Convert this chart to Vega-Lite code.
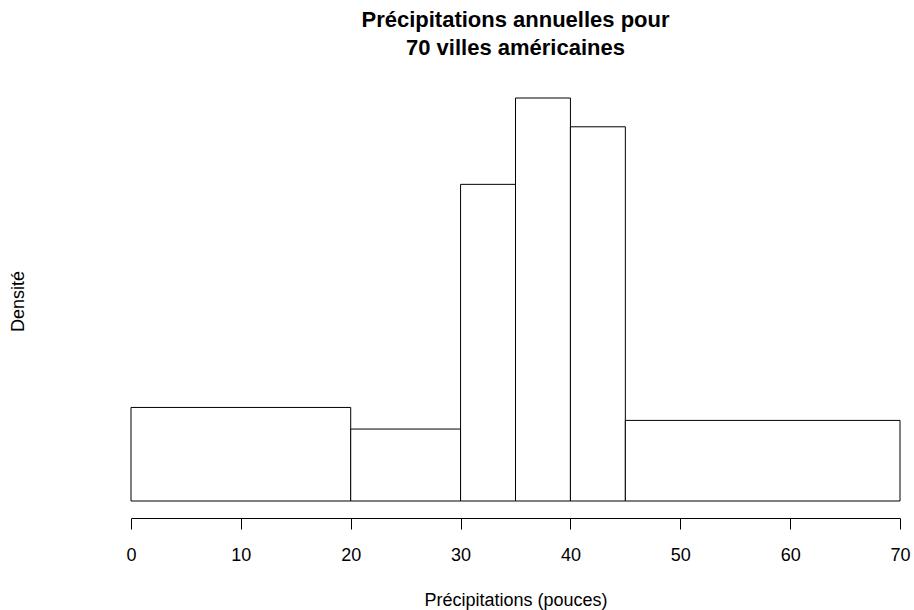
{
  "$schema": "https://vega.github.io/schema/vega-lite/v6.json",
  "width": 769,
  "height": 403,
  "autosize": "none",
  "padding": {"left": 131, "top": 98, "right": 14, "bottom": 109},
  "background": "white",
  "config": {"view": {"stroke": null}, "font": "Liberation Sans"},
  "title": {
    "text": ["Précipitations annuelles pour", "70 villes américaines"],
    "font": "Liberation Sans",
    "fontSize": 22,
    "fontWeight": "bold",
    "color": "black",
    "lineHeight": 28,
    "anchor": "middle",
    "offset": 38
  },
  "data": {
    "values": [
      {"start": 0, "end": 20, "density": 0.009286},
      {"start": 20, "end": 30, "density": 0.007143},
      {"start": 30, "end": 35, "density": 0.031429},
      {"start": 35, "end": 40, "density": 0.04},
      {"start": 40, "end": 45, "density": 0.037143},
      {"start": 45, "end": 70, "density": 0.008}
    ]
  },
  "mark": {"type": "rect", "fill": "white", "stroke": "black", "strokeWidth": 1},
  "encoding": {
    "x": {
      "field": "start",
      "type": "quantitative",
      "scale": {"domain": [0, 70], "nice": false},
      "axis": {
        "values": [0, 10, 20, 30, 40, 50, 60, 70],
        "offset": 17,
        "grid": false,
        "domainColor": "black",
        "tickColor": "black",
        "tickSize": 11,
        "labelPadding": 31,
        "labelBaseline": "alphabetic",
        "labelFlush": false,
        "labelFontSize": 18,
        "labelColor": "black",
        "labelFont": "Liberation Sans",
        "title": "Précipitations (pouces)",
        "titleFontSize": 18,
        "titleFontWeight": "normal",
        "titleColor": "black",
        "titleFont": "Liberation Sans",
        "titleBaseline": "alphabetic",
        "titleY": 87
      }
    },
    "x2": {"field": "end"},
    "y": {
      "field": "density",
      "type": "quantitative",
      "scale": {"domain": [0, 0.04], "nice": false},
      "axis": {
        "domain": false,
        "ticks": false,
        "labels": false,
        "grid": false,
        "title": "Densité",
        "titleFontSize": 18,
        "titleFontWeight": "normal",
        "titleColor": "black",
        "titleFont": "Liberation Sans",
        "titleAngle": 270,
        "titleBaseline": "middle",
        "titleX": -113,
        "titleY": 203
      }
    },
    "y2": {"datum": 0}
  }
}
